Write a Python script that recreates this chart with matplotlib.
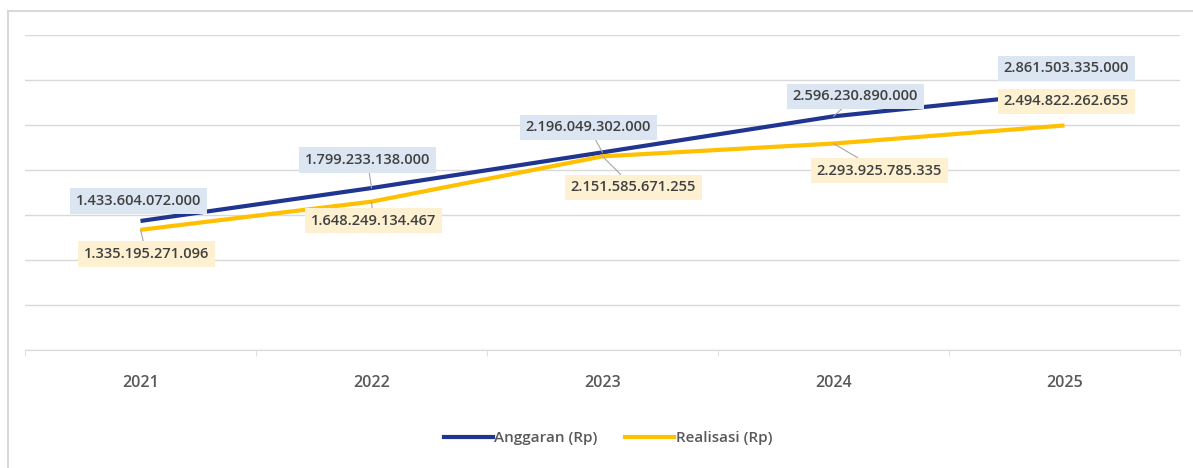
import matplotlib.pyplot as plt
import matplotlib.lines as mlines

plt.rcParams['font.family'] = ['Open Sans', 'DejaVu Sans']

years = ['2021', '2022', '2023', '2024', '2025']
anggaran = [1433604072000, 1799233138000, 2196049302000, 2596230890000, 2861503335000]
realisasi = [1335195271096, 1648249134467, 2151585671255, 2293925785335, 2494822262655]
anggaran_txt = ['1.433.604.072.000', '1.799.233.138.000', '2.196.049.302.000',
                '2.596.230.890.000', '2.861.503.335.000']
realisasi_txt = ['1.335.195.271.096', '1.648.249.134.467', '2.151.585.671.255',
                 '2.293.925.785.335', '2.494.822.262.655']

# label offsets in pixels (dx, dy) from the data point, screen coords (y up)
anggaran_off = [(-2, 20), (-4, 28), (-14, 25), (22, 20), (2, 24)]
realisasi_off = [(6, -24), (2, -19), (31, -31), (46, -27), (2, 24)]
anggaran_leader = [False, True, True, True, False]
realisasi_leader = [True, True, True, True, False]

BLUE = '#1F3590'
GOLD = '#FFC000'
TXT = '#404040'

fig = plt.figure(figsize=(11.93, 4.68), dpi=100)
W, H = 1193, 468
ax = fig.add_axes([25 / W, (H - 350) / H, (1180 - 25) / W, (350 - 35) / H])

x = list(range(len(years)))
ax.plot(x, anggaran, color=BLUE, lw=3, solid_capstyle='butt', zorder=3)
ax.plot(x, realisasi, color=GOLD, lw=3, solid_capstyle='butt', zorder=3)

ax.set_xlim(-0.5, 4.5)
ax.set_ylim(0, 3.5e12)
ax.set_yticks([i * 0.5e12 for i in range(8)])
ax.yaxis.grid(True, color='#D9D9D9', lw=1)
ax.set_axisbelow(True)
ax.tick_params(axis='y', left=False, labelleft=False)
ax.set_xticks(x)
ax.set_xticklabels(years, fontsize=11.5, color='#595959', fontweight='semibold')
ax.tick_params(axis='x', length=0, pad=18)
ax.set_xticks([i - 0.5 for i in range(6)], minor=True)
ax.tick_params(axis='x', which='minor', length=4, color='#D9D9D9', direction='out')
for s in ['top', 'right', 'left']:
    ax.spines[s].set_visible(False)
ax.spines['bottom'].set_color('#D9D9D9')


def label(xi, yi, txt, off, bg, leader):
    arrow = None
    if leader:
        arrow = dict(arrowstyle='-', color='#A6A6A6', lw=0.8, shrinkA=0, shrinkB=0)
    ax.annotate(txt, (xi, yi), xytext=off, textcoords='offset pixels',
                ha='center', va='center', fontsize=10.5, color=TXT,
                fontweight='semibold',
                bbox=dict(boxstyle='square,pad=0.4', fc=bg, ec='none'),
                arrowprops=arrow, zorder=5)


for i in x:
    label(i, anggaran[i], anggaran_txt[i], anggaran_off[i], '#DCE6F2', anggaran_leader[i])
    label(i, realisasi[i], realisasi_txt[i], realisasi_off[i], '#FDF1D2', realisasi_leader[i])

h1 = mlines.Line2D([], [], color=BLUE, lw=3)
h2 = mlines.Line2D([], [], color=GOLD, lw=3)
fig.legend([h1, h2], ['Anggaran (Rp)', 'Realisasi (Rp)'], loc='center',
           bbox_to_anchor=(608 / W, 1 - 438 / H), ncol=2, frameon=False,
           prop={'size': 11, 'weight': 'semibold'}, labelcolor='#595959',
           handlelength=3.2, handletextpad=0.1, columnspacing=1.8)

# outer frame (left and top edges visible)
fig.add_artist(mlines.Line2D([8 / W, 8 / W], [0, 1 - 11 / H], color='#D9D9D9', lw=1.5))
fig.add_artist(mlines.Line2D([8 / W, 1], [1 - 11 / H, 1 - 11 / H], color='#D9D9D9', lw=1.5))

fig.savefig('out.png', dpi=100)
